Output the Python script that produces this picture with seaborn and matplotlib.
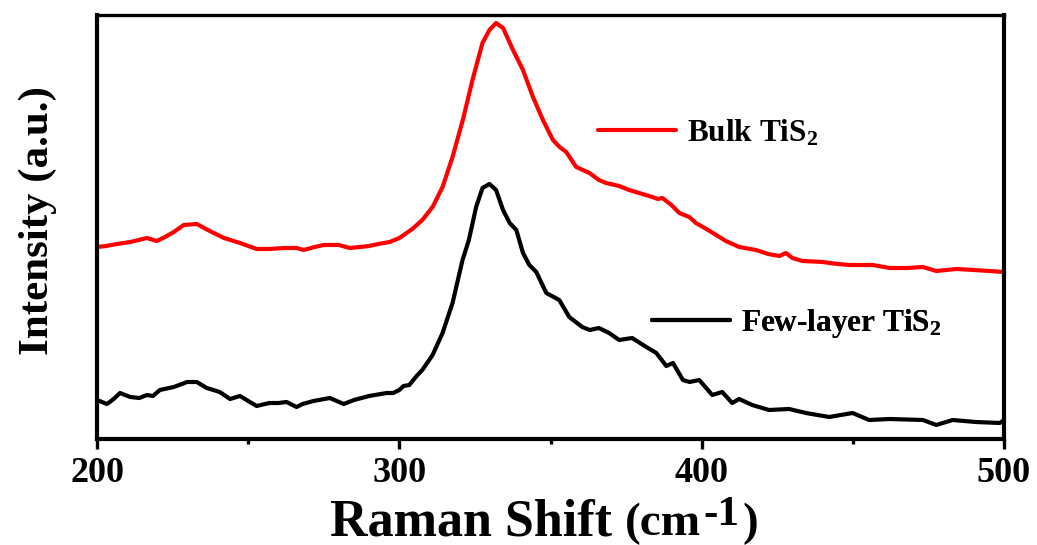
import matplotlib
matplotlib.use("Agg")
import matplotlib.pyplot as plt
import seaborn as sns
import pandas as pd

# Raman spectra (intensity in arbitrary units)
bulk_shift = [200, 203, 206.6, 211, 216.5, 219.8, 222.5, 225.4, 228.7, 233, 237.3, 242,
              247.3, 252.8, 257, 262, 266, 268.4, 272, 275, 280, 283.6, 287, 290, 293,
              296.8, 300, 302.4, 304.3, 307.6, 311, 314.3, 317.6, 321, 324.2, 327.5,
              329.8, 332, 334.3, 337.6, 340.9, 344.2, 347.5, 350.8, 353, 355.2, 358.5,
              362.9, 366, 368.4, 372.7, 376, 379.3, 383.7, 385.5, 387, 390, 392.6, 395.9,
              398.1, 401, 404.8, 408, 412.4, 418, 422, 425.7, 427.9, 430, 433.4, 440, 445,
              449, 456.6, 462.2, 468, 473.2, 477.6, 484.3, 490, 495.3, 500]
bulk_intensity = [192, 193, 195, 197, 201, 198, 202, 207, 214, 215, 208, 201,
                  196, 190, 190, 191, 191, 189, 192, 194, 194, 191, 192, 193, 195,
                  197, 201, 206, 210, 219, 232, 252, 282, 319, 359, 396,
                  409, 416, 411, 389, 369, 342, 319, 299, 292, 287, 272,
                  266, 259, 256, 253, 249, 246, 242, 240, 241, 234, 226, 222,
                  216, 211, 204, 198, 192, 189, 185, 183, 186, 181, 178, 177, 175,
                  174, 174, 171, 171, 172, 168, 170, 169, 168, 167]

few_shift = [200, 203.3, 205.5, 207.6, 211, 214, 216.5, 218.5, 220.8, 225.4, 229.8, 233,
             236.3, 238.5, 240.6, 244, 247.3, 250, 252.8, 257, 260, 262.7, 266, 268,
             271.6, 277, 281.6, 285, 290, 295.8, 298, 300, 301.4, 303.3, 305.7, 307.6,
             311, 314.3, 317.6, 320.9, 323, 325.4, 327.5, 329.8, 332, 334.3, 336.5,
             338.7, 340.9, 343, 345.3, 348.6, 352.9, 356.2, 360.5, 363, 366, 369.4,
             372.7, 377, 381.7, 385, 388.3, 390.5, 393.8, 396, 399.2, 403.5, 406.8,
             410.1, 412.4, 416.7, 422.3, 428.9, 434.5, 442.2, 449.9, 455.4, 462.2,
             473.2, 477.6, 483, 490.7, 498.6, 500]
few_intensity = [39, 35, 40, 46, 42, 41, 44, 43, 49, 52, 57, 57,
                 51, 49, 47, 40, 43, 38, 33, 36, 36, 37, 32, 35,
                 38, 41, 35, 39, 43, 46, 46, 49, 53, 54, 63, 69,
                 84, 106, 136, 179, 199, 232, 251, 255, 249, 229, 216,
                 209, 186, 174, 167, 146, 139, 122, 112, 109, 111, 106,
                 99, 101, 92, 86, 73, 76, 59, 57, 59, 44, 47,
                 36, 40, 34, 29, 30, 26, 22, 26, 19, 20,
                 19, 14, 19, 17, 16, 19]

series_labels = [r"Bulk TiS$_\mathbf{2}$", r"Few-layer TiS$_\mathbf{2}$"]
series_colors = ["#ff0000", "#000000"]
x_ticks = [200, 300, 400, 500]

sns.set_style("ticks")
plt.rcParams["font.family"] = ["Liberation Serif", "DejaVu Serif"]
plt.rcParams["font.weight"] = "bold"
plt.rcParams["mathtext.fontset"] = "custom"
plt.rcParams["mathtext.rm"] = "Liberation Serif:bold"
plt.rcParams["mathtext.bf"] = "Liberation Serif:bold"
plt.rcParams["mathtext.it"] = "Liberation Serif:bold"
for key in ["text.color", "axes.labelcolor", "xtick.color", "ytick.color",
            "axes.edgecolor"]:
    plt.rcParams[key] = "black"

bulk = pd.DataFrame({"shift": bulk_shift, "intensity": bulk_intensity})
few = pd.DataFrame({"shift": few_shift, "intensity": few_intensity})

fig = plt.figure(figsize=(10.37, 5.45), dpi=100)
ax = fig.add_axes([97 / 1037, 106 / 545, 907 / 1037, 424 / 545])

sns.lineplot(data=bulk, x="shift", y="intensity", ax=ax, color=series_colors[0],
             lw=3.0, sort=False, estimator=None)
sns.lineplot(data=few, x="shift", y="intensity", ax=ax, color=series_colors[1],
             lw=3.0, sort=False, estimator=None)

ax.set_xlim(200, 500)
ax.set_ylim(0, 424)
ax.set_xticks(x_ticks)
ax.set_xticklabels([str(t) for t in x_ticks], fontsize=26, fontweight="bold")
ax.set_xticks([250, 350, 450], minor=True)
ax.set_yticks([])
ax.tick_params(axis="x", which="major", direction="out", length=7, width=2.4, pad=6)
ax.tick_params(axis="x", which="minor", direction="out", length=3.5, width=2.4)
for side in ["left", "bottom", "right"]:
    ax.spines[side].set_linewidth(3.0)
ax.spines["top"].set_linewidth(2.4)

ax.set_xlabel("")
ax.set_ylabel("Intensity (a.u.)", fontsize=31, fontweight="bold")
ax.yaxis.set_label_coords(-0.044, 0.516)

# separate legend entries beside each spectrum
lines = ax.get_lines()
for line, label, anchor in zip(lines, series_labels,
                               [(598, 133), (652, 323)]):
    ax_x = (anchor[0] - 97) / 907
    ax_y = (439 - anchor[1]) / 424
    leg = ax.legend([line], [label], loc="center left", bbox_to_anchor=(ax_x, ax_y),
                    frameon=False, borderpad=0, borderaxespad=0, handlelength=2.5,
                    handletextpad=0.35, prop={"family": "Liberation Serif",
                                              "weight": "bold", "size": 22.5})
    ax.add_artist(leg)

# axis title with a smaller unit part and superscript
t1 = fig.text(330 / 1037, 10 / 545, "Raman Shift", fontsize=37.5, fontweight="bold",
              ha="left", va="baseline")
t2 = ax.annotate("(cm", xy=(1, 0), xycoords=t1, xytext=(9, 8),
                 textcoords="offset points", fontsize=34, fontweight="bold",
                 ha="left", va="baseline", annotation_clip=False)
t3 = ax.annotate("-1", xy=(1, 0), xycoords=t2, xytext=(2, 14.5),
                 textcoords="offset points", fontsize=31, fontweight="bold",
                 ha="left", va="baseline", annotation_clip=False)
ax.annotate(")", xy=(1, 0), xycoords=(t3, t2), xytext=(2, 7.3),
            textcoords="offset points", fontsize=34, fontweight="bold",
            ha="left", va="baseline", annotation_clip=False)

fig.savefig("out.png", dpi=100)
